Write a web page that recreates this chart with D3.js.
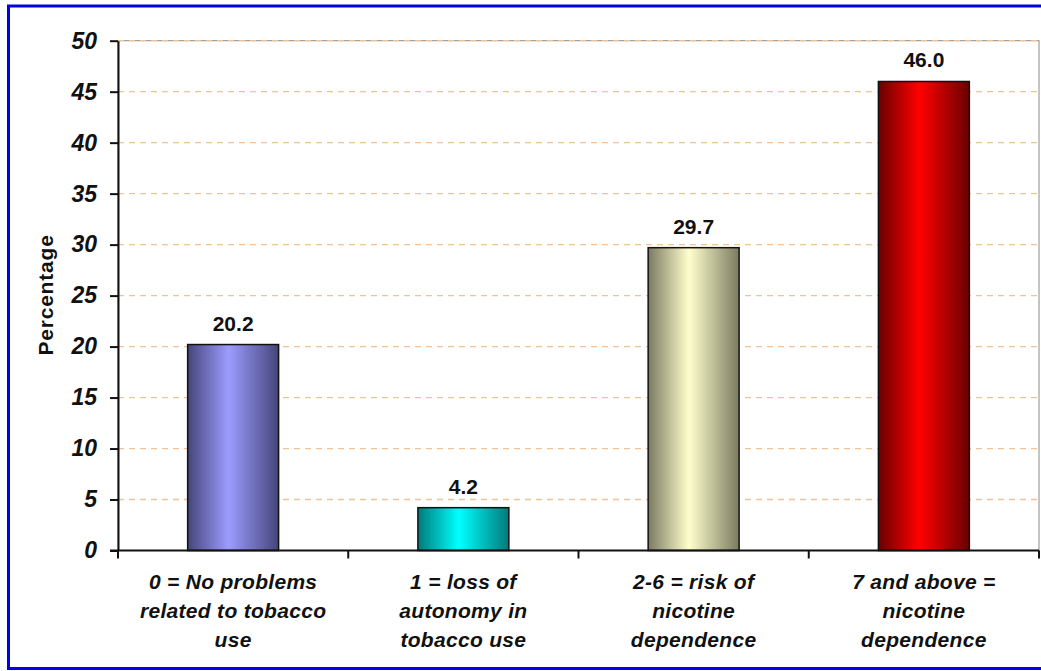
<!DOCTYPE html>
<html>
<head>
<meta charset="utf-8">
<script src="https://cdn.jsdelivr.net/npm/d3@7"></script>
<style>
  html, body { margin: 0; padding: 0; background: #ffffff; }
  svg { display: block; }
  text { font-family: "Liberation Sans", Arial, sans-serif; fill: #111; }
</style>
</head>
<body>
<svg id="chart" width="1041" height="671"></svg>
<script>
// Fagerström score groups and share of respondents (%)
const categories = [
  "0  = No problems related to tobacco use",
  "1 = loss of autonomy in tobacco use",
  "2-6  = risk of nicotine dependence",
  "7 and above = nicotine dependence"
];
const categoryLines = [
  ["0  = No problems", "related to tobacco", "use"],
  ["1 = loss of", "autonomy in", "tobacco use"],
  ["2-6  = risk of", "nicotine", "dependence"],
  ["7 and above =", "nicotine", "dependence"]
];
const values = [20.2, 4.2, 29.7, 46.0];
const yTicks = [0, 5, 10, 15, 20, 25, 30, 35, 40, 45, 50];
const barLight = ["#9c9cff", "#00ffff", "#ffffcc", "#ff0000"];
const barDark = ["#45457a", "#007a7a", "#7a7a62", "#6a0000"];

const svg = d3.select("#chart");
const plot = { left: 118, right: 1039, top: 40.7, bottom: 550.5 };

// outer frame
svg.append("rect")
  .attr("x", 8.5).attr("y", 6).attr("width", 1045).attr("height", 662.5)
  .attr("fill", "#ffffff").attr("stroke", "#0000e6").attr("stroke-width", 3);

const x = d3.scaleBand().domain(categories).range([plot.left, plot.right]).padding(0);
const y = d3.scaleLinear().domain([0, 50]).range([plot.bottom, plot.top]);
const barW = x.bandwidth() * 0.395;

// horizontal gradients giving the bars a rounded look
const defs = svg.append("defs");
categories.forEach((c, i) => {
  const g = defs.append("linearGradient").attr("id", "grad" + i)
    .attr("x1", "0%").attr("x2", "100%").attr("y1", "0%").attr("y2", "0%");
  g.append("stop").attr("offset", "0%").attr("stop-color", barDark[i]);
  g.append("stop").attr("offset", "45%").attr("stop-color", barLight[i]);
  g.append("stop").attr("offset", "100%").attr("stop-color", barDark[i]);
});

// plot area frame
svg.append("rect")
  .attr("x", plot.left).attr("y", plot.top)
  .attr("width", plot.right - plot.left).attr("height", plot.bottom - plot.top)
  .attr("fill", "none").attr("stroke", "#8a8a8a").attr("stroke-width", 1);

// dashed gridlines
svg.append("g").selectAll("line")
  .data(yTicks.filter(d => d > 0))
  .join("line")
  .attr("x1", plot.left).attr("x2", plot.right - 1)
  .attr("y1", d => y(d)).attr("y2", d => y(d))
  .attr("stroke", "#f0c396").attr("stroke-width", 1.3)
  .attr("stroke-dasharray", "6 5");

// bars
svg.append("g").selectAll("rect")
  .data(values)
  .join("rect")
  .attr("x", (d, i) => x(categories[i]) + (x.bandwidth() - barW) / 2)
  .attr("y", d => y(d))
  .attr("width", barW)
  .attr("height", d => y(0) - y(d))
  .attr("fill", (d, i) => `url(#grad${i})`)
  .attr("stroke", "#111").attr("stroke-width", 1.5);

// value labels
svg.append("g").selectAll("text")
  .data(values)
  .join("text")
  .attr("x", (d, i) => x(categories[i]) + x.bandwidth() / 2)
  .attr("y", d => y(d) - 14)
  .attr("text-anchor", "middle")
  .style("font-size", "21px").style("font-weight", "bold")
  .text(d => d.toFixed(1));

// y axis
const yAxis = d3.axisLeft(y).tickValues(yTicks).tickSize(8).tickSizeOuter(0).tickPadding(13);
const gy = svg.append("g").attr("transform", `translate(${plot.left},0)`).call(yAxis);
gy.select(".domain").attr("stroke", "#111").attr("stroke-width", 2);
gy.selectAll(".tick line").attr("stroke", "#111").attr("stroke-width", 2);
gy.selectAll(".tick text")
  .style("font-size", "23px").style("font-weight", "bold").style("font-style", "italic")
  .attr("fill", "#111");

// x axis with ticks at category boundaries
const boundaries = categories.map(c => x(c)).concat([plot.right]);
const gx = svg.append("g");
gx.append("line")
  .attr("x1", plot.left - 8).attr("x2", plot.right)
  .attr("y1", y(0)).attr("y2", y(0))
  .attr("stroke", "#111").attr("stroke-width", 2);
gx.selectAll("line.tick")
  .data(boundaries)
  .join("line").attr("class", "tick")
  .attr("x1", d => d).attr("x2", d => d)
  .attr("y1", y(0)).attr("y2", y(0) + 8)
  .attr("stroke", "#111").attr("stroke-width", 2);

// category labels
const lineBase = [589, 618, 647];
categoryLines.forEach((lines, i) => {
  const cx = x(categories[i]) + x.bandwidth() / 2;
  const t = svg.append("text")
    .attr("text-anchor", "middle")
    .style("font-size", "21px").style("font-weight", "bold").style("font-style", "italic")
    .style("letter-spacing", "0.3px");
  lines.forEach((ln, j) => {
    t.append("tspan").attr("x", cx).attr("y", lineBase[j]).text(ln);
  });
});

// y axis title
svg.append("text")
  .attr("transform", "translate(53,295) rotate(-90)")
  .attr("text-anchor", "middle")
  .style("font-size", "21px").style("font-weight", "bold")
  .style("letter-spacing", "0.8px")
  .text("Percentage");
</script>
</body>
</html>
